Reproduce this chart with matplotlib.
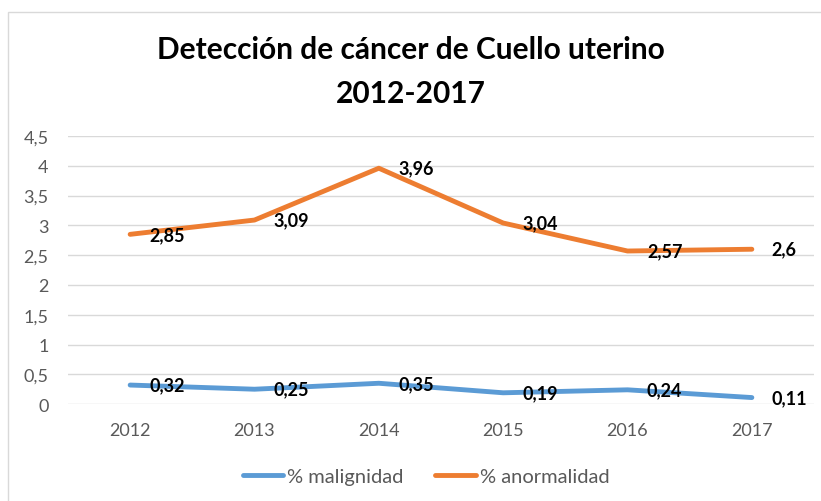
import matplotlib.pyplot as plt
from matplotlib.patches import Rectangle
from matplotlib.ticker import FuncFormatter

plt.rcParams['font.family'] = ['Lato', 'DejaVu Sans']

# datos
years = ["2012", "2013", "2014", "2015", "2016", "2017"]
malignidad = [0.32, 0.25, 0.35, 0.19, 0.24, 0.11]
anormalidad = [2.85, 3.09, 3.96, 3.04, 2.57, 2.6]
yticks = [0, 0.5, 1, 1.5, 2, 2.5, 3, 3.5, 4, 4.5]

blue = "#5B9BD5"
orange = "#ED7D31"
gray = "#595959"


def coma(v):
    return f"{v:g}".replace(".", ",")


fig = plt.figure(figsize=(8.21, 5.02), dpi=100)
ax = fig.add_axes([0.0828, 0.193, 0.9087, 0.534])

# borde del area del grafico
fig.patches.append(Rectangle((8 / 821, -0.1), 1.2, 1 - 13 / 502 + 0.1,
                             transform=fig.transFigure, fill=False,
                             edgecolor="#D9D9D9", linewidth=1))

x = range(len(years))
ax.plot(x, malignidad, color=blue, lw=3.5, label="% malignidad",
        solid_capstyle="round", zorder=3)
ax.plot(x, anormalidad, color=orange, lw=3.5, label="% anormalidad",
        solid_capstyle="round", zorder=3)

for serie in (malignidad, anormalidad):
    for i, v in enumerate(serie):
        ax.annotate(coma(v), (i, v), xytext=(14, 0), textcoords="offset points",
                    ha="left", va="center", fontsize=13, fontweight="bold",
                    color="black", zorder=4)

ax.set_xlim(-0.5, len(years) - 0.5)
ax.set_ylim(0, 4.5)
ax.set_xticks(list(x))
ax.set_xticklabels(years)
ax.set_yticks(yticks)
ax.yaxis.set_major_formatter(FuncFormatter(lambda v, p: coma(v)))
ax.tick_params(length=0, colors=gray, labelsize=13)
ax.tick_params(axis="y", pad=14)
ax.tick_params(axis="x", pad=13)
ax.grid(axis="y", color="#D9D9D9", lw=1)
ax.set_axisbelow(True)
for s in ax.spines.values():
    s.set_visible(False)

fig.text(0.5, 1 - 50 / 502, "Detección de cáncer de Cuello uterino",
         ha="center", va="center", fontsize=21.5, fontweight="bold")
fig.text(0.5, 1 - 94 / 502, "2012-2017",
         ha="center", va="center", fontsize=21.5, fontweight="bold")

leg = fig.legend(loc="center", bbox_to_anchor=(426 / 821, 1 - 477 / 502), ncol=2,
                 frameon=False, fontsize=14.5, handlelength=2.0,
                 handletextpad=0.2, columnspacing=1.6)
for t in leg.get_texts():
    t.set_color(gray)

fig.savefig("out.png", dpi=100)
